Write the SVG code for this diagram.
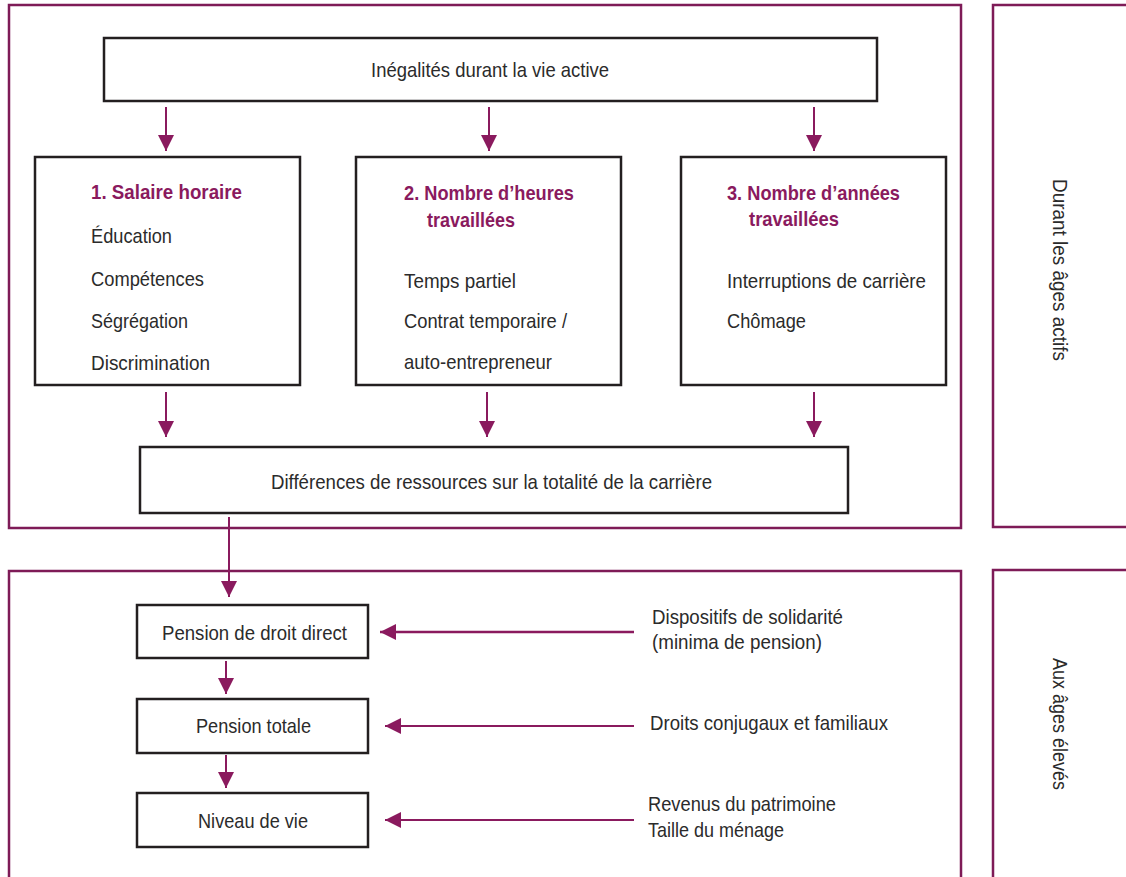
<svg xmlns="http://www.w3.org/2000/svg" width="1126" height="877" viewBox="0 0 1126 877">
<defs>
<style>
.frame{fill:none;stroke:#7e1b57;stroke-width:2.5}
.box{fill:#fff;stroke:#231f20;stroke-width:2.5}
.t{font-family:"Liberation Sans Narrow","Liberation Sans",Arial,sans-serif;font-size:21px;fill:#2b2b2b}
.h{font-family:"Liberation Sans Narrow","Liberation Sans",Arial,sans-serif;font-size:21px;font-weight:bold;fill:#8a1a5e}
.c{stroke:#8a1a5e;stroke-width:2;fill:none;marker-end:url(#ah)}
.c3{stroke:#8a1a5e;stroke-width:2.5;fill:none;marker-end:url(#ah2)}
</style>
<marker id="ah" viewBox="0 0 10 10" refX="10" refY="5" markerWidth="8" markerHeight="8" markerUnits="strokeWidth" orient="auto">
<path d="M0,0 L10,5 L0,10 z" fill="#8a1a5e"/>
</marker>
<marker id="ah2" viewBox="0 0 10 10" refX="10" refY="5" markerWidth="6.4" markerHeight="6.4" markerUnits="strokeWidth" orient="auto">
<path d="M0,0 L10,5 L0,10 z" fill="#8a1a5e"/>
</marker>
</defs>
<rect width="1126" height="877" fill="#fff"/>

<g id="frames">
<rect class="frame" x="9" y="5" width="952" height="523"/>
<rect class="frame" x="9" y="571" width="952" height="320"/>
<rect class="frame" x="993" y="5" width="150" height="522"/>
<rect class="frame" x="993" y="570" width="150" height="320"/>
<text class="t" transform="translate(1053,270) rotate(90)" text-anchor="middle" textLength="182" lengthAdjust="spacingAndGlyphs">Durant les âges actifs</text>
<text class="t" transform="translate(1053,724) rotate(90)" text-anchor="middle" textLength="132" lengthAdjust="spacingAndGlyphs">Aux âges élevés</text>
</g>

<g id="connectors">
<line class="c" x1="166" y1="107" x2="166" y2="151"/>
<line class="c" x1="489" y1="107" x2="489" y2="151"/>
<line class="c" x1="814" y1="107" x2="814" y2="151"/>
<line class="c" x1="166" y1="392" x2="166" y2="437"/>
<line class="c" x1="487" y1="392" x2="487" y2="437"/>
<line class="c" x1="814" y1="392" x2="814" y2="437"/>
<line class="c" x1="229" y1="517" x2="229" y2="597"/>
<line class="c" x1="226" y1="661" x2="226" y2="694"/>
<line class="c" x1="226" y1="755" x2="226" y2="788"/>
<line class="c3" x1="634" y1="632" x2="380" y2="632"/>
<line class="c" x1="634" y1="726" x2="385" y2="726"/>
<line class="c" x1="634" y1="820" x2="385" y2="820"/>
</g>

<g id="n-inegalites">
<rect class="box" x="104" y="38" width="773" height="63"/>
<text class="t" x="371" y="77" textLength="238" lengthAdjust="spacingAndGlyphs">Inégalités durant la vie active</text>
</g>

<g id="n-salaire">
<rect class="box" x="35" y="157" width="265" height="228"/>
<text class="h" x="91" y="199" textLength="151" lengthAdjust="spacingAndGlyphs">1. Salaire horaire</text>
<text class="t" x="91" y="243" textLength="81" lengthAdjust="spacingAndGlyphs">Éducation</text>
<text class="t" x="91" y="286" textLength="113" lengthAdjust="spacingAndGlyphs">Compétences</text>
<text class="t" x="91" y="328" textLength="97" lengthAdjust="spacingAndGlyphs">Ségrégation</text>
<text class="t" x="91" y="370" textLength="119" lengthAdjust="spacingAndGlyphs">Discrimination</text>
</g>

<g id="n-heures">
<rect class="box" x="356" y="157" width="265" height="228"/>
<text class="h" x="404" y="200" textLength="170" lengthAdjust="spacingAndGlyphs">2. Nombre d’heures</text>
<text class="h" x="427" y="227" textLength="88" lengthAdjust="spacingAndGlyphs">travaillées</text>
<text class="t" x="404" y="288" textLength="112" lengthAdjust="spacingAndGlyphs">Temps partiel</text>
<text class="t" x="404" y="328" textLength="163" lengthAdjust="spacingAndGlyphs">Contrat temporaire /</text>
<text class="t" x="404" y="369" textLength="148" lengthAdjust="spacingAndGlyphs">auto-entrepreneur</text>
</g>

<g id="n-annees">
<rect class="box" x="681" y="157" width="265" height="228"/>
<text class="h" x="727" y="200" textLength="173" lengthAdjust="spacingAndGlyphs">3. Nombre d’années</text>
<text class="h" x="749" y="226" textLength="90" lengthAdjust="spacingAndGlyphs">travaillées</text>
<text class="t" x="727" y="288" textLength="199" lengthAdjust="spacingAndGlyphs">Interruptions de carrière</text>
<text class="t" x="727" y="328" textLength="79" lengthAdjust="spacingAndGlyphs">Chômage</text>
</g>

<g id="n-differences">
<rect class="box" x="140" y="447" width="708" height="66"/>
<text class="t" x="271" y="489" textLength="441" lengthAdjust="spacingAndGlyphs">Différences de ressources sur la totalité de la carrière</text>
</g>

<g id="n-droit-direct">
<rect class="box" x="137" y="605" width="231" height="53"/>
<text class="t" x="162" y="640" textLength="185" lengthAdjust="spacingAndGlyphs">Pension de droit direct</text>
</g>

<g id="n-totale">
<rect class="box" x="137" y="699" width="231" height="54"/>
<text class="t" x="196" y="733" textLength="115" lengthAdjust="spacingAndGlyphs">Pension totale</text>
</g>

<g id="n-niveau">
<rect class="box" x="137" y="793" width="231" height="54"/>
<text class="t" x="198" y="828" textLength="110" lengthAdjust="spacingAndGlyphs">Niveau de vie</text>
</g>

<g id="n-solidarite">
<text class="t" x="652" y="624" textLength="191" lengthAdjust="spacingAndGlyphs">Dispositifs de solidarité</text>
<text class="t" x="652" y="649" textLength="170" lengthAdjust="spacingAndGlyphs">(minima de pension)</text>
</g>

<g id="n-conjugaux">
<text class="t" x="650" y="730" textLength="238" lengthAdjust="spacingAndGlyphs">Droits conjugaux et familiaux</text>
</g>

<g id="n-patrimoine">
<text class="t" x="648" y="811" textLength="188" lengthAdjust="spacingAndGlyphs">Revenus du patrimoine</text>
<text class="t" x="648" y="837" textLength="136" lengthAdjust="spacingAndGlyphs">Taille du ménage</text>
</g>
</svg>
